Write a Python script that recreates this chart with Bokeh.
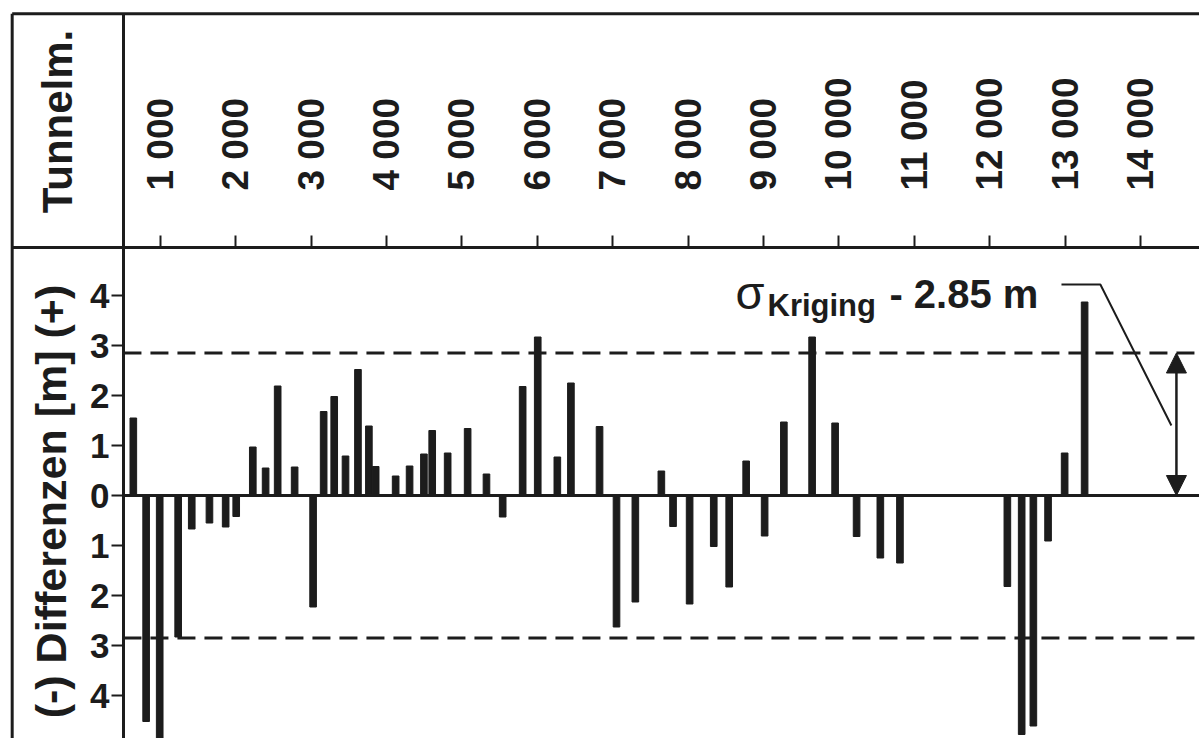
import math
from bokeh.plotting import figure
from bokeh.models import FixedTicker, Label, Arrow, NormalHead, Range1d
from bokeh.embed import file_html
from bokeh.resources import INLINE

# ---- data -------------------------------------------------------------
positions = [640, 810, 990, 1235, 1415, 1650, 1865, 2005, 2225, 2395, 2555, 2780,
             3025, 3165, 3305, 3455, 3620, 3765, 3855, 4120, 4305, 4495, 4605, 4810,
             5075, 5325, 5540, 5805, 6005, 6265, 6445, 6825, 7050, 7300, 7645, 7800,
             8020, 8340, 8545, 8770, 9015, 9270, 9645, 9950, 10235, 10550, 10810,
             12235, 12425, 12580, 12775, 12995, 13260]
differences = [1.55, -4.52, -5.0, -2.83, -0.67, -0.55, -0.63, -0.42, 0.97, 0.55, 2.19, 0.57,
               -2.23, 1.68, 1.98, 0.79, 2.52, 1.39, 0.58, 0.39, 0.59, 0.83, 1.30, 0.85,
               1.34, 0.43, -0.43, 2.18, 3.17, 0.77, 2.25, 1.38, -2.63, -2.13, 0.49, -0.62,
               -2.17, -1.02, -1.83, 0.69, -0.81, 1.47, 3.17, 1.45, -0.82, -1.25, -1.35,
               -1.82, -4.78, -4.61, -0.91, 0.85, 3.87]
tunnel_ticks = [1000, 2000, 3000, 4000, 5000, 6000, 7000, 8000, 9000, 10000,
                11000, 12000, 13000, 14000]
tunnel_labels = ["1 000", "2 000", "3 000", "4 000", "5 000", "6 000", "7 000",
                 "8 000", "9 000", "10 000", "11 000", "12 000", "13 000", "14 000"]
diff_ticks = [-4, -3, -2, -1, 0, 1, 2, 3, 4]
diff_labels = ["4", "3", "2", "1", "0", "1", "2", "3", "4"]
sigma_kriging = 2.85

# ---- layout constants (data units) -------------------------------------
XMIN, XMAX = -1122, 14784      # whole canvas width
YMIN, YMAX = -4.86, 9.90       # whole canvas height
X_DIV = 509                    # vertical divider / y axis position
Y_DIV = 4.96                   # horizontal divider / x axis position
X_OUT = -967                   # outer left border
Y_OUT = 9.634                  # outer top border
INK = "#1c1c1c"
FONT = "Liberation Sans"

p = figure(width=1199, height=738, x_range=Range1d(XMIN, XMAX), y_range=Range1d(YMIN, YMAX),
           output_backend="svg", toolbar_location=None, x_axis_location="above",
           y_axis_location="left", min_border=0, min_border_left=0, min_border_right=0,
           min_border_top=0, min_border_bottom=0)
p.outline_line_color = None
p.xgrid.visible = False
p.ygrid.visible = False
p.background_fill_color = "white"
p.border_fill_color = "white"

xa = p.xaxis[0]
xa.fixed_location = Y_DIV
xa.bounds = (X_OUT, XMAX)
xa.ticker = FixedTicker(ticks=tunnel_ticks)
xa.major_label_overrides = dict(zip(tunnel_ticks, tunnel_labels))
xa.major_label_orientation = math.pi / 2
xa.major_label_text_font = FONT
xa.major_label_text_font_style = "bold"
xa.major_label_text_font_size = "37px"
xa.major_label_text_color = INK
xa.major_label_standoff = 45
xa.major_tick_in = 0
xa.major_tick_out = 12
xa.major_tick_line_width = 2
xa.major_tick_line_color = INK
xa.minor_tick_line_color = None
xa.axis_line_width = 3
xa.axis_line_color = INK

ya = p.yaxis[0]
ya.fixed_location = X_DIV
ya.bounds = (YMIN, Y_OUT)
ya.ticker = FixedTicker(ticks=diff_ticks)
ya.major_label_overrides = dict(zip(diff_ticks, diff_labels))
ya.major_label_text_font = FONT
ya.major_label_text_font_style = "bold"
ya.major_label_text_font_size = "35px"
ya.major_label_text_color = INK
ya.major_label_standoff = 2
ya.major_tick_in = 0
ya.major_tick_out = 12
ya.major_tick_line_width = 2
ya.major_tick_line_color = INK
ya.minor_tick_line_color = None
ya.axis_line_width = 3
ya.axis_line_color = INK

# bars
p.vbar(x=positions, top=differences, bottom=0, width=88, color=INK)

# zero line and sigma lines
p.segment(x0=[X_DIV], y0=[0], x1=[XMAX], y1=[0], line_color=INK, line_width=3)
p.segment(x0=[X_DIV, X_DIV], y0=[sigma_kriging, -sigma_kriging],
          x1=[XMAX, XMAX], y1=[sigma_kriging, -sigma_kriging],
          line_color=INK, line_width=3, line_dash="18 9")

# outer table borders
p.segment(x0=[X_OUT, X_OUT], y0=[Y_OUT, Y_OUT], x1=[XMAX, X_OUT], y1=[Y_OUT, YMIN],
          line_color=INK, line_width=3)

# titles
p.add_layout(Label(x=-366, y=7.48, text="Tunnelm.", angle=math.pi / 2,
                   text_align="center", text_baseline="middle", text_font=FONT,
                   text_font_style="bold", text_font_size="42px", text_color=INK))
p.add_layout(Label(x=-446, y=-0.12, text="(-) Differenzen [m] (+)", angle=math.pi / 2,
                   text_align="center", text_baseline="middle", text_font=FONT,
                   text_font_style="bold", text_font_size="43px", text_color=INK))

# sigma annotation
p.add_layout(Label(x=8628, y=4.06, text="σ", text_align="left", text_baseline="alphabetic",
                   text_font=FONT, text_font_size="47px", text_color=INK))
p.add_layout(Label(x=9053, y=3.80, text="Kriging", text_align="left",
                   text_baseline="alphabetic", text_font=FONT, text_font_style="bold",
                   text_font_size="31px", text_color=INK))
p.add_layout(Label(x=10670, y=4.04, text="- 2.85 m", text_align="left",
                   text_baseline="alphabetic", text_font=FONT, text_font_style="bold",
                   text_font_size="40px", text_color=INK))
p.line(x=[12953, 13469, 14411], y=[4.22, 4.22, 1.40], line_color=INK, line_width=2)
p.add_layout(Arrow(start=NormalHead(size=20, fill_color=INK, line_color=INK),
                   end=NormalHead(size=20, fill_color=INK, line_color=INK),
                   x_start=14478, y_start=0, x_end=14478, y_end=sigma_kriging,
                   line_color=INK, line_width=2.5))

open("out.html", "w").write(file_html(p, INLINE))
